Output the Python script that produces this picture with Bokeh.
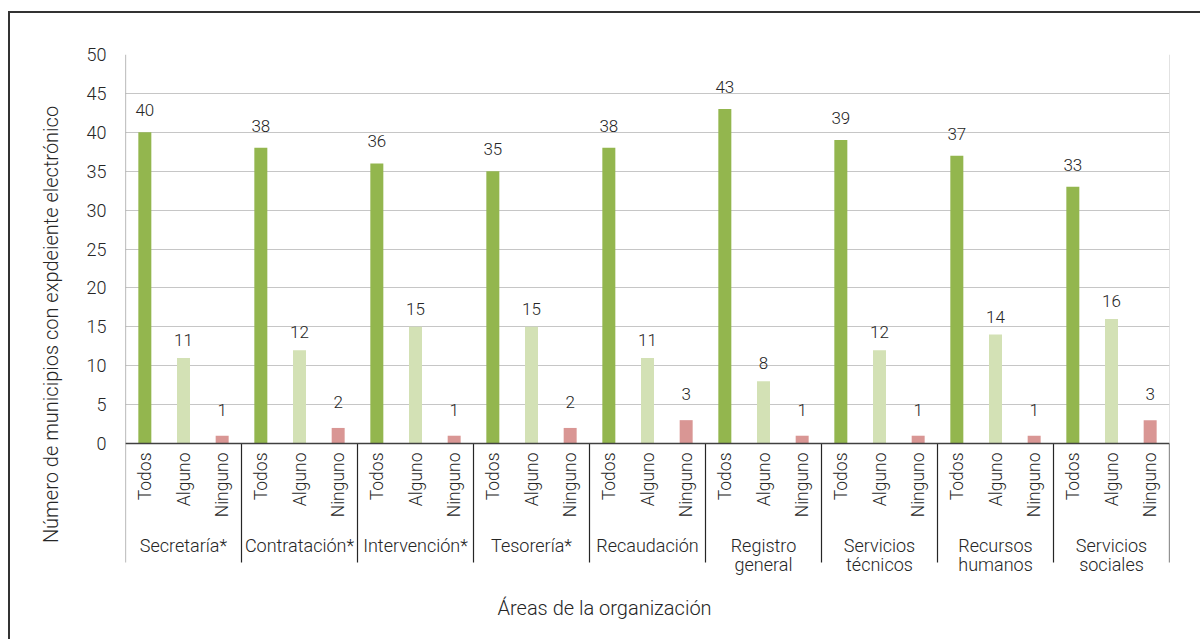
import numpy as np
from bokeh.plotting import figure
from bokeh.models import Range1d, FixedTicker, Title, InlineStyleSheet
from bokeh.core.properties import value
from bokeh.embed import file_html
from bokeh.resources import INLINE

# ---- data ----
areas = ["Secretaría*", "Contratación*", "Intervención*", "Tesorería*", "Recaudación",
         "Registro\ngeneral", "Servicios\ntécnicos", "Recursos\nhumanos", "Servicios\nsociales"]
series = ["Todos", "Alguno", "Ninguno"]
todos = [40, 38, 36, 35, 38, 43, 39, 37, 33]
alguno = [11, 12, 15, 15, 11, 8, 12, 14, 16]
ninguno = [1, 2, 1, 2, 3, 1, 1, 1, 3]
y_ticks = [0, 5, 10, 15, 20, 25, 30, 35, 40, 45, 50]
y_title = "Número de municipios con expdeiente electrónico"
x_title = "Áreas de la organización"

# ---- style ----
colors = {"Todos": "#93b64e", "Alguno": "#d3e1b5", "Ninguno": "#d99694"}
label_offset = {"Todos": 22, "Alguno": 18, "Ninguno": 26}
FONT = "Roboto Light"
TXT = "#262626"
n = len(areas)
W = 3 * n

PX = 50 / 389.0          # data units per pixel (vertical)
Y_SEP = -119 * PX        # bottom of group separators

p = figure(width=1200, height=639, x_range=Range1d(0, W), y_range=Range1d(-151 * PX, 50),
           output_backend="svg", toolbar_location=None, x_axis_type=None,
           min_border_left=125, min_border_right=31, min_border_top=54, min_border_bottom=45)
p.outline_line_color = None
p.background_fill_color = "white"
p.border_fill_color = "white"

# y axis
ax = p.yaxis[0]
ax.ticker = FixedTicker(ticks=y_ticks)
ax.axis_line_color = None
ax.major_tick_line_color = None
ax.minor_tick_line_color = None
ax.major_tick_out = 0
ax.major_tick_in = 0
ax.major_label_standoff = 19
ax.major_label_text_font = FONT
ax.major_label_text_font_size = "18px"
ax.major_label_text_color = TXT
ax.axis_label = y_title
ax.axis_label_text_font = FONT
ax.axis_label_text_font_size = "20px"
ax.axis_label_text_font_style = "normal"
ax.axis_label_text_color = TXT
ax.axis_label_standoff = 21

p.ygrid.grid_line_color = "#c6c6c6"
p.ygrid.grid_line_width = 1

# frame lines
p.segment(x0=[W], y0=[0], x1=[W], y1=[50], line_color="#c6c6c6", line_width=1)
p.segment(x0=[0], y0=[Y_SEP], x1=[0], y1=[50], line_color="#8a8a8a", line_width=1.2)
sep_x = [3 * g for g in range(1, n + 1)]
p.segment(x0=sep_x, y0=[0] * n, x1=sep_x, y1=[Y_SEP] * n, line_color="#262626", line_width=1.2)

vals = {"Todos": todos, "Alguno": alguno, "Ninguno": ninguno}
for i, s in enumerate(series):
    xs = [3 * g + i + 0.5 for g in range(n)]
    v = vals[s]
    p.vbar(x=xs, top=v, bottom=0, width=0.336, fill_color=colors[s], line_color=None)
    p.text(x=xs, y=v, text=[str(t) for t in v], text_align="center", text_baseline="middle",
           y_offset=-label_offset[s], text_font=value(FONT), text_font_size="17px", text_color=TXT)
    p.text(x=xs, y=[0] * n, text=[s] * n, angle=np.pi / 2, text_align="right",
           text_baseline="middle", y_offset=9, text_font=value(FONT), text_font_size="17.5px",
           text_color=TXT)

# bottom axis line
p.segment(x0=[0], y0=[0], x1=[W], y1=[0], line_color="#404040", line_width=1.5)

# group labels
p.text(x=[3 * g + 1.5 for g in range(n)], y=[0] * n, text=areas, text_align="center",
       text_baseline="top", y_offset=91, text_line_height=0.95, text_font=value(FONT),
       text_font_size="18px", text_color=TXT)

# x title
p.add_layout(Title(text=x_title, align="left", offset=372, standoff=0, vertical_align="middle",
                   text_font=FONT, text_font_size="20px", text_font_style="normal",
                   text_color=TXT), "below")

# outer border of the chart area
p.stylesheets = [InlineStyleSheet(css="""
:host::after { content: ""; position: absolute; left: 8px; top: 11px; right: 0; bottom: 0;
  border-left: 2px solid #333333; border-top: 2px solid #333333; pointer-events: none; z-index: 10; }
""")]

open("out.html", "w").write(file_html(p, INLINE))
